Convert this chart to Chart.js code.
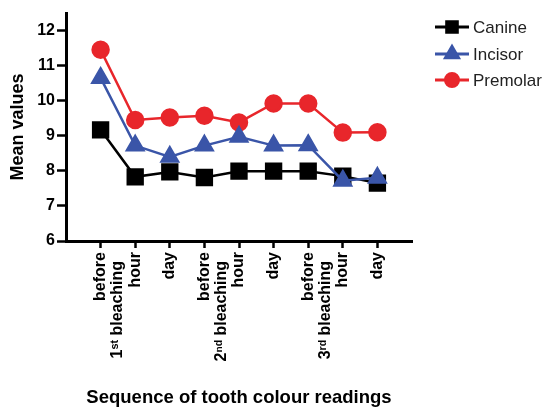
<!DOCTYPE html>
<html>
<head>
<meta charset="utf-8">
<script src="https://cdn.jsdelivr.net/npm/chart.js@4/dist/chart.umd.min.js"></script>
<style>
  html, body { margin: 0; padding: 0; background: #fff; }
  #wrap { width: 549px; height: 408px; }
</style>
</head>
<body>
<div id="wrap"><canvas id="toothChart"></canvas></div>
<script>
// reading positions along the x axis, and their labels
const readingPos = [1, 2, 3, 4, 5, 6, 7, 8, 9];
const readingLabels = ['before', 'hour', 'day', 'before', 'hour', 'day', 'before', 'hour', 'day'];
// group labels sit between "before" and "hour" of each bleaching
const groupPos = [1.5, 4.5, 7.5];
const groupLabels = ['1\u02e2\u1d57 bleaching  ', '2\u207f\u1d48 bleaching  ', '3\u02b3\u1d48 bleaching  '];

const yTicks = [6, 7, 8, 9, 10, 11, 12];

// mean values per tooth type
const canine   = [9.17, 7.83, 7.97, 7.81, 7.99, 7.99, 7.99, 7.85, 7.65];
const incisor  = [10.65, 8.72, 8.40, 8.72, 8.97, 8.72, 8.73, 7.72, 7.80];
const premolar = [11.45, 9.45, 9.52, 9.57, 9.38, 9.92, 9.92, 9.09, 9.10];

const toPoints = vals => vals.map((v, i) => ({ x: readingPos[i], y: v }));

// legend drawn as line + marker, like the original
const lineLegend = {
  id: 'lineLegend',
  afterDraw(chart) {
    const ctx = chart.ctx;
    const rows = [27, 54, 80];
    const sizes = { rect: 7.5, triangle: 7.5, circle: 6.5 };
    chart.data.datasets.forEach((ds, i) => {
      const y = rows[i];
      ctx.save();
      ctx.strokeStyle = ds.borderColor;
      ctx.lineWidth = 3;
      ctx.beginPath();
      ctx.moveTo(435, y);
      ctx.lineTo(469, y);
      ctx.stroke();
      ctx.fillStyle = ds.borderColor;
      Chart.helpers.drawPoint(ctx, {
        pointStyle: ds.pointStyle,
        radius: sizes[ds.pointStyle],
        rotation: 0,
        borderWidth: 1
      }, 452, y);
      ctx.fill();
      ctx.fillStyle = '#222';
      ctx.font = '17px "Liberation Sans", Arial, sans-serif';
      ctx.textBaseline = 'middle';
      ctx.fillText(ds.label, 473, y + 1);
      ctx.restore();
    });
  }
};

const ctx = document.getElementById('toothChart').getContext('2d');
new Chart(ctx, {
  type: 'line',
  data: {
    datasets: [
      {
        label: 'Canine',
        data: toPoints(canine),
        borderColor: '#000000',
        backgroundColor: '#000000',
        pointStyle: 'rect',
        pointRadius: 10.5,
        borderWidth: 2.5,
        order: 1
      },
      {
        label: 'Incisor',
        data: toPoints(incisor),
        borderColor: '#3a55a8',
        backgroundColor: '#3a55a8',
        pointStyle: 'triangle',
        pointRadius: 9.5,
        borderWidth: 2.5,
        order: 0
      },
      {
        label: 'Premolar',
        data: toPoints(premolar),
        borderColor: '#e8262b',
        backgroundColor: '#e8262b',
        pointStyle: 'circle',
        pointRadius: 8,
        borderWidth: 2.5,
        order: 2
      }
    ]
  },
  options: {
    responsive: true,
    maintainAspectRatio: false,
    animation: false,
    layout: { padding: { top: 12, right: 137, left: 0, bottom: 0 } },
    plugins: {
      legend: { display: false },
      tooltip: { enabled: false }
    },
    scales: {
      x: {
        type: 'linear',
        min: 0,
        max: 10,
        afterBuildTicks: scale => {
          scale.ticks = readingPos.concat(groupPos).sort((a, b) => a - b).map(v => ({ value: v }));
        },
        afterFit: scale => { scale.height = 167; },
        border: { color: '#000', width: 3 },
        grid: {
          drawOnChartArea: false,
          tickLength: 7,
          tickWidth: 2.5,
          tickColor: c => (c.tick && c.tick.value % 1 !== 0) ? 'rgba(0,0,0,0)' : '#000'
        },
        ticks: {
          autoSkip: false,
          minRotation: 90,
          maxRotation: 90,
          padding: 4,
          color: '#000',
          font: { family: '"Liberation Sans", Arial, sans-serif', size: 16, weight: 'bold' },
          callback: v => {
            const i = readingPos.indexOf(v);
            if (i >= 0) return readingLabels[i];
            const g = groupPos.indexOf(v);
            return g >= 0 ? groupLabels[g] : '';
          }
        },
        title: {
          display: true,
          text: 'Sequence of tooth colour readings',
          color: '#000',
          font: { family: '"Liberation Sans", Arial, sans-serif', size: 18.5, weight: 'bold', lineHeight: 1 },
          padding: { top: 0, bottom: 1 }
        }
      },
      y: {
        min: 6,
        max: 12.5,
        afterBuildTicks: scale => { scale.ticks = yTicks.map(v => ({ value: v })); },
        afterFit: scale => { scale.width = 66; },
        border: { color: '#000', width: 3 },
        grid: {
          drawOnChartArea: false,
          tickLength: 9,
          tickWidth: 2.5,
          tickColor: '#000'
        },
        ticks: {
          padding: 2,
          color: '#000',
          font: { family: '"Liberation Sans", Arial, sans-serif', size: 16, weight: 'bold' }
        },
        title: {
          display: true,
          text: 'Mean values',
          color: '#000',
          font: { family: '"Liberation Sans", Arial, sans-serif', size: 18, weight: 'bold', lineHeight: 1.2 },
          padding: { top: 7, bottom: 0 }
        }
      }
    }
  },
  plugins: [lineLegend]
});
</script>
</body>
</html>
